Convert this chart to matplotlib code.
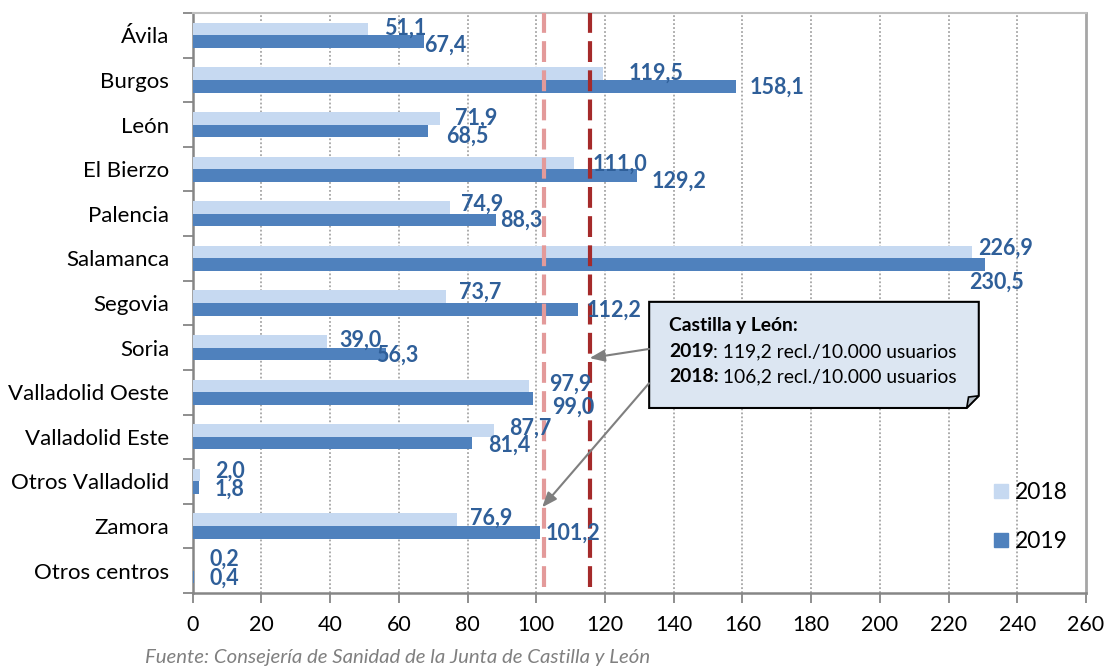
import matplotlib
matplotlib.use("Agg")
import matplotlib.pyplot as plt
from matplotlib.patches import Polygon, Patch
import numpy as np

categories = ["Ávila", "Burgos", "León", "El Bierzo", "Palencia", "Salamanca",
              "Segovia", "Soria", "Valladolid Oeste", "Valladolid Este",
              "Otros Valladolid", "Zamora", "Otros centros"]
values_2018 = [51.1, 119.5, 71.9, 111.0, 74.9, 226.9, 73.7, 39.0, 97.9, 87.7, 2.0, 76.9, 0.2]
values_2019 = [67.4, 158.1, 68.5, 129.2, 88.3, 230.5, 112.2, 56.3, 99.0, 81.4, 1.8, 101.2, 0.4]
series_labels = ["2018", "2019"]
# reference lines as drawn in the picture
line_2019 = 115.5
line_2018 = 102.3
xticks = list(range(0, 261, 20))

# label offsets (pixels) from bar end / bar centre, as placed in the original
off_2018 = [(37, 1), (53, 0), (36, 0), (46, -1), (32, 3), (33, 4), (34, 4), (34, 1),
            (41, 2), (36, 2), (30, 4), (34, 2), (31, 5)]
off_2019 = [(21, -4), (41, -1), (39, -5), (42, -6), (25, 0), (12, -17), (36, -1), (11, -1),
            (40, -9), (37, -2), (31, -1), (33, -1), (30, -1)]

FONT = "Lato"
c18 = "#c6d9f1"
c19 = "#4f81bd"
lab_col = "#2f5f99"

fig = plt.figure(figsize=(11.07, 6.70), dpi=100)
ax = fig.add_axes([0.1741, 0.1149, 0.8069, 0.8657])

n = len(categories)
y = np.arange(n)
h = 0.283
ax.barh(y - h / 2, values_2018, height=h, color=c18, label=series_labels[0], zorder=3)
ax.barh(y + h / 2, values_2019, height=h, color=c19, label=series_labels[1], zorder=3)

ax.set_xlim(0, 260)
ax.set_ylim(n - 0.5, -0.5)

for i in range(n):
    for v, yy, off in ((values_2018[i], y[i] - h / 2, off_2018[i]),
                       (values_2019[i], y[i] + h / 2, off_2019[i])):
        ax.annotate(f"{v:.1f}".replace(".", ","), xy=(v, yy), xytext=off,
                    textcoords="offset pixels", ha="center", va="center",
                    fontsize=15.5, fontweight="bold", color=lab_col,
                    family=FONT, zorder=6)

# reference lines
ax.axvline(line_2018, ymin=0.01, ymax=1, color="#e39a9a", lw=3, ls=(0, (5, 2)), zorder=4)
ax.axvline(line_2019, ymin=0.01, ymax=1, color="#a52a2a", lw=3, ls=(0, (5, 2)), zorder=4)

# grid
ax.set_xticks(xticks)
for xv in xticks[1:-1]:
    ax.axvline(xv, color="#a6a6a6", lw=1.3, ls=(0, (1, 1.2)), zorder=1)

ax.set_xticklabels([str(t) for t in xticks], fontsize=15.5, family=FONT)
ax.set_yticks(y)
ax.set_yticklabels(categories, fontsize=16, family=FONT)
ax.set_yticks(np.arange(-0.5, n, 1), minor=True)
ax.tick_params(axis="y", which="major", length=0, pad=17)
ax.tick_params(axis="y", which="minor", length=7, width=1.3, color="#868686", direction="out")
ax.tick_params(axis="x", which="major", length=7, width=1.3, color="#868686", pad=9)

for s in ["left", "bottom"]:
    ax.spines[s].set_color("#868686")
    ax.spines[s].set_linewidth(1.8)
ax.spines["top"].set_color("#bfbfbf")
ax.spines["top"].set_linewidth(1.5)
ax.spines["right"].set_color("#a6a6a6")
ax.spines["right"].set_linewidth(2)

# legend
handles = [Patch(color=c18, label="2018"), Patch(color=c19, label="2019")]
ax.legend(handles=handles, loc="upper left", bbox_to_anchor=(0.897, 0.191),
          frameon=False, prop={"family": FONT, "size": 16.5}, handlelength=0.6,
          handleheight=0.6, handletextpad=0.3, labelspacing=1.21, borderpad=0,
          borderaxespad=0)

# annotation box with folded corner
x0, x1, y0, y1 = 0.511, 0.880, 0.319, 0.502
fx, fy = 0.0135, 0.021
box = Polygon([(x0, y1), (x1, y1), (x1, y0 + fy), (x1 - fx, y0), (x0, y0)],
              closed=True, facecolor="#dce6f2", edgecolor="black", lw=1.5,
              transform=ax.transAxes, zorder=7)
ax.add_patch(box)
fold = Polygon([(x1, y0 + fy), (x1 - fx * 0.85, y0 + fy * 0.9), (x1 - fx, y0)],
               closed=True, facecolor="#b3bcc6", edgecolor="black", lw=1.2,
               transform=ax.transAxes, zorder=8)
ax.add_patch(fold)
tx = 0.533
FS_BOX = 13.9
ax.text(tx, 0.462, "Castilla y León:", transform=ax.transAxes, fontsize=FS_BOX,
        fontweight="bold", family=FONT, va="center", zorder=9)
for yy, bold, rest in ((0.416, "2019", ": 119,2 recl./10.000 usuarios"),
                       (0.373, "2018:", " 106,2 recl./10.000 usuarios")):
    tb = ax.text(tx, yy, bold, transform=ax.transAxes, fontsize=FS_BOX,
                 fontweight="bold", family=FONT, va="center", zorder=9)
    ax.annotate(rest, xy=(1, 0.5), xycoords=tb, va="center", ha="left",
                fontsize=FS_BOX, family=FONT, zorder=9)

arrow_kw = dict(arrowstyle="-|>,head_length=0.9,head_width=0.35", color="#7f7f7f", lw=1.5,
                shrinkA=0, shrinkB=0)
ax.annotate("", xy=(line_2019, 7.235), xytext=(132.8, 7.03), arrowprops=arrow_kw, zorder=8)
ax.annotate("", xy=(line_2018 - 0.6, 10.58), xytext=(132.8, 7.80), arrowprops=arrow_kw, zorder=8)

fig.text(0.131, 1 - 658 / 670, "Fuente: Consejería de Sanidad de la Junta de Castilla y León",
         fontsize=14.7, style="italic", color="#808080", family=FONT, va="center")

fig.savefig("out.png", dpi=100)
